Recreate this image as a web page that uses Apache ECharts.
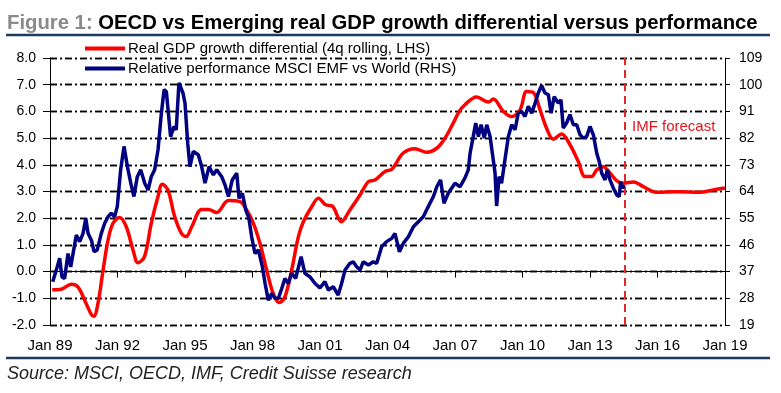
<!DOCTYPE html>
<html>
<head>
<meta charset="utf-8">
<script src="https://cdn.jsdelivr.net/npm/echarts@6/dist/echarts.min.js"></script>
<style>html,body{margin:0;padding:0;background:#fff}#c{width:781px;height:393px}</style>
</head>
<body>
<div id="c"></div>
<script>
// Real GDP growth differential (4q rolling, LHS) — decimal year / value
const gdpYears = [1989.1,1989.5,1989.95,1990.24,1990.54,1990.84,1990.95,1991.13,1991.36,1991.58,1991.8,1992.1,1992.39,1992.69,1992.91,1993.2,1993.5,1993.8,1993.99,1994.24,1994.54,1994.84,1995.05,1995.3,1995.74,1996.04,1996.41,1996.93,1997.44,1997.74,1998.04,1998.33,1998.63,1998.92,1999.19,1999.44,1999.74,2000.04,2000.26,2000.63,2000.93,2001.25,2001.55,2001.95,2002.33,2002.78,2003.15,2003.44,2003.89,2004.19,2004.7,2005.22,2005.74,2006.19,2006.56,2006.92,2007.19,2007.44,2007.96,2008.48,2008.7,2009.15,2009.52,2009.89,2010.19,2010.48,2010.78,2011.07,2011.37,2011.74,2012.11,2012.48,2012.78,2013.07,2013.3,2013.59,2013.89,2014.19,2014.48,2014.93,2015.37,2015.96,2016.85,2017.89,2018.48,2019.0];
const gdpValues = [-0.68,-0.66,-0.47,-0.57,-1.07,-1.61,-1.67,-1.2,0.06,1.18,1.81,2.03,1.68,0.81,0.33,0.56,1.81,2.81,3.27,3.06,2.06,1.43,1.31,1.68,2.33,2.33,2.21,2.66,2.62,2.31,1.81,1.06,0.06,-0.82,-1.16,-0.95,0.06,1.31,1.87,2.43,2.75,2.5,2.45,1.87,2.31,2.87,3.37,3.43,3.75,3.83,4.44,4.6,4.47,4.62,5.0,5.56,6.0,6.25,6.54,6.35,6.46,6.0,5.81,6.06,6.75,6.71,6.06,5.37,4.96,5.15,4.75,4.12,3.56,3.56,3.81,3.93,3.69,3.4,3.31,3.36,3.18,2.97,2.99,2.97,3.06,3.13];

// Relative performance MSCI EMF vs World (RHS)
const perfYears = [1989.12,1989.28,1989.43,1989.53,1989.65,1989.8,1989.92,1990.17,1990.32,1990.47,1990.59,1990.69,1990.84,1990.96,1991.1,1991.28,1991.43,1991.58,1991.72,1991.87,1991.99,1992.14,1992.29,1992.44,1992.59,1992.73,1992.88,1993.03,1993.21,1993.36,1993.5,1993.65,1993.8,1993.95,1994.07,1994.17,1994.36,1994.51,1994.61,1994.73,1994.91,1995.0,1995.12,1995.22,1995.37,1995.59,1995.74,1995.89,1996.07,1996.26,1996.41,1996.63,1996.78,1996.93,1997.1,1997.3,1997.4,1997.55,1997.7,1997.84,1997.96,1998.11,1998.26,1998.44,1998.56,1998.7,1998.85,1999.0,1999.15,1999.3,1999.44,1999.59,1999.74,1999.92,2000.16,2000.33,2000.56,2000.78,2001.0,2001.22,2001.37,2001.59,2001.81,2001.96,2002.11,2002.33,2002.48,2002.63,2002.78,2002.92,2003.15,2003.37,2003.52,2003.74,2003.96,2004.19,2004.33,2004.53,2004.7,2004.93,2005.15,2005.37,2005.59,2005.81,2006.04,2006.19,2006.36,2006.51,2006.7,2006.85,2007.0,2007.22,2007.44,2007.59,2007.67,2007.81,2007.92,2008.04,2008.16,2008.3,2008.41,2008.56,2008.66,2008.78,2008.85,2008.96,2009.07,2009.22,2009.37,2009.52,2009.67,2009.81,2009.96,2010.11,2010.26,2010.41,2010.56,2010.7,2010.85,2011.0,2011.15,2011.27,2011.41,2011.59,2011.71,2011.81,2011.96,2012.11,2012.26,2012.41,2012.56,2012.7,2012.85,2013.0,2013.15,2013.3,2013.41,2013.52,2013.67,2013.77,2013.89,2014.04,2014.19,2014.3,2014.36,2014.45,2014.52];
const perfValues = [33.6,37.5,41.5,35.2,34.7,43.1,38.6,49.3,47.1,49.9,55.0,49.9,47.6,43.7,44.3,49.9,53.3,55.5,56.7,55.5,58.9,71.3,79.2,72.4,66.8,62.3,69.0,71.3,66.8,64.5,69.0,71.3,78.0,90.4,98.3,97.7,82.5,85.9,84.8,100.6,97.2,93.8,80.3,72.4,77.5,76.4,72.4,66.8,72.4,69.6,71.3,69.0,66.2,62.3,67.9,70.2,61.7,63.4,57.8,55.0,48.8,43.1,44.3,38.6,33.0,27.4,29.6,28.0,28.0,31.3,34.7,33.0,36.4,34.7,42.0,36.4,35.2,33.0,31.5,33.6,30.8,31.9,29.1,33.0,37.5,39.8,40.3,38.6,37.5,40.3,39.2,40.3,39.8,45.4,47.1,48.2,49.9,43.7,46.5,48.8,52.1,53.8,55.5,58.9,62.3,65.6,67.9,60.0,63.4,65.1,66.8,65.6,68.5,71.3,76.9,82.5,87.1,82.5,86.5,82.0,86.5,82.5,76.9,70.2,59.1,69.0,66.8,74.7,82.5,86.5,84.8,90.4,91.0,89.3,92.7,90.4,93.8,97.2,99.7,97.2,96.6,90.4,96.0,93.8,94.9,85.4,87.1,89.9,86.5,86.5,83.1,82.0,82.5,85.9,83.1,76.9,74.1,70.2,67.9,71.3,67.9,65.1,62.8,62.3,67.3,65.1,66.2];

const forecastStart = 2014.55;
const leftTicks = {min: -2, max: 8, interval: 1};
const rightTicks = {min: 19, max: 109, interval: 9};
const yearTicks = {min: 1989, max: 2019, interval: 3};

const seriesNames = ['Real GDP growth differential (4q rolling, LHS)', 'Relative performance MSCI EMF vs World (RHS)'];

const FONT = '"Liberation Sans", Arial, sans-serif';
const gridDash = [7, 3, 2, 3];
const gridLineStyle = {color: '#000', width: 1.4, type: gridDash, opacity: 1};

// horizontal gridline levels, from the left-axis tick definition
const gridLevels = [];
for (let v = leftTicks.min; v <= leftTicks.max + 1e-9; v += leftTicks.interval) gridLevels.push(v);

const chart = echarts.init(document.getElementById('c'), null, {renderer: 'canvas'});
const option = {
  animation: false,
  backgroundColor: '#fff',
  textStyle: {fontFamily: FONT},
  title: [{
    text: '{g|Figure 1: }{b|OECD vs Emerging real GDP growth differential versus performance}',
    left: 2, top: 8,
    textStyle: {
      rich: {
        g: {color: '#8a8a8a', fontSize: 20.3, fontWeight: 'bold', fontFamily: FONT},
        b: {color: '#000', fontSize: 20.3, fontWeight: 'bold', fontFamily: FONT}
      }
    }
  }, {
    text: 'Source: MSCI, OECD, IMF, Credit Suisse research',
    left: 2, top: 360,
    textStyle: {fontSize: 18, fontStyle: 'italic', fontWeight: 'normal', color: '#222', fontFamily: FONT}
  }],
  legend: {
    data: seriesNames,
    orient: 'vertical',
    left: 80, top: 36,
    icon: 'rect',
    itemWidth: 40, itemHeight: 4,
    itemGap: 5,
    textStyle: {fontSize: 15, color: '#000', fontFamily: FONT, padding: [0, 0, 0, -2]}
  },
  grid: {left: 50, right: 56, top: 58, bottom: 68},
  xAxis: [{
    type: 'value', position: 'bottom',
    min: yearTicks.min, max: yearTicks.max, interval: yearTicks.interval,
    axisLine: {show: false, onZero: false},
    axisTick: {show: false},
    splitLine: {show: false},
    axisLabel: {
      margin: 13, fontSize: 15, color: '#000', fontFamily: FONT,
      formatter: v => 'Jan ' + String(Math.round(v)).slice(2)
    }
  }, {
    type: 'value', position: 'bottom',
    min: yearTicks.min, max: yearTicks.max, interval: yearTicks.interval,
    axisLine: {show: true, onZero: true, onZeroAxisIndex: 0, lineStyle: {color: '#000', width: 1}},
    axisTick: {show: true, length: 6, lineStyle: {color: '#000', width: 1}},
    axisLabel: {show: false},
    splitLine: {show: false}
  }],
  yAxis: [{
    type: 'value', position: 'left',
    min: leftTicks.min, max: leftTicks.max, interval: leftTicks.interval,
    axisLine: {show: true, onZero: false, lineStyle: {color: '#000', width: 1}},
    axisTick: {show: true, length: 7, lineStyle: {color: '#000'}},
    axisLabel: {margin: 14, fontSize: 14, color: '#000', fontFamily: FONT, formatter: v => v.toFixed(1)},
    splitLine: {show: true, showMinLine: true, showMaxLine: true, lineStyle: gridLineStyle}
  }, {
    type: 'value', position: 'right',
    min: rightTicks.min, max: rightTicks.max, interval: rightTicks.interval,
    axisLine: {show: true, onZero: false, lineStyle: {color: '#000', width: 1}},
    axisTick: {show: true, length: 5, lineStyle: {color: '#000'}},
    axisLabel: {margin: 14, fontSize: 14, color: '#000', fontFamily: FONT},
    splitLine: {show: false}
  }],
  series: [{
    name: seriesNames[0],
    type: 'line',
    xAxisIndex: 0, yAxisIndex: 0,
    data: gdpYears.map((y, i) => [y, gdpValues[i]]),
    symbol: 'none', smooth: 0.35,
    lineStyle: {color: '#ff0000', width: 3.5},
    itemStyle: {color: '#ff0000'},
    z: 3,
    markLine: {
      silent: true, symbol: ['none', 'none'], z: 1,
      label: {show: false},
      emphasis: {disabled: true},
      data: gridLevels.map(v => [
        {coord: [yearTicks.min, v], lineStyle: gridLineStyle},
        {coord: [yearTicks.max, v]}
      ]).concat([[
        {coord: [forecastStart, leftTicks.min], lineStyle: {color: '#e02828', width: 2, type: [8, 5]}},
        {coord: [forecastStart, leftTicks.max]}
      ]])
    }
  }, {
    name: seriesNames[1],
    type: 'line',
    xAxisIndex: 0, yAxisIndex: 1,
    data: perfYears.map((y, i) => [y, perfValues[i]]),
    symbol: 'none',
    lineStyle: {color: '#000080', width: 3.5},
    itemStyle: {color: '#000080'},
    z: 4
  }],
  graphic: [
    {type: 'line', shape: {x1: 6, y1: 35, x2: 770, y2: 35}, style: {stroke: '#1b3a5c', lineWidth: 2.5}},
    {type: 'line', shape: {x1: 6, y1: 358, x2: 770, y2: 358}, style: {stroke: '#1b3a5c', lineWidth: 2.5}},
    {type: 'text', left: 632, top: 119, style: {text: 'IMF forecast', fill: '#e8141c', font: '15px ' + FONT}}
  ]
};
chart.setOption(option);
</script>
</body>
</html>
